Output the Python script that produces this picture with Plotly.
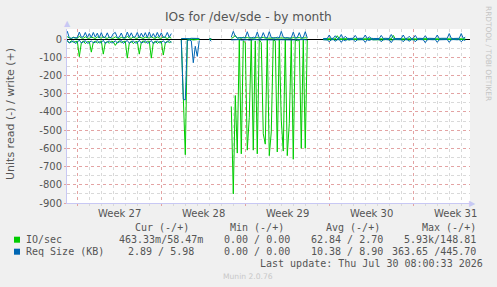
import plotly.graph_objects as go

N = None
# 4-hour samples (6 per day); day 0 = Monday of Week 27
start_day = -1
step = 1 / 6

# IO/sec read (plotted negative)
io_read = [
    15, 12, 20, 10, 18, 14,   # day -1
    12, 97, 22, 10, 25, 15,   # day 0
    14, 72, 18, 12, 22, 16,   # day 1
    10, 83, 20, 14, 24, 12,   # day 2
    15, 35, 18, 10, 20, 14,   # day 3
    12, 105, 22, 12, 25, 15,  # day 4
    14, 83, 18, 10, 22, 13,   # day 5
    12, 105, 20, 12, 24, 15,  # day 6
    13, 88, 22, 11, 20, 14,   # day 7
    N, N, N, N, 5, 340,       # day 8
    635, 5, 2, 3, 5, 4,       # day 9
    3, 2, N, N, N, N,         # day 10
    2, 3, N, N, N, N,         # day 11
    N, N, N, N, N, 370,       # day 12
    850, 310, 626, 5, 630, 10,  # day 13
    20, 610, 430, 5, 610, 10,   # day 14
    630, 5, 20, 520, 577, 5,    # day 15
    640, 510, 5, 10, 620, 5,    # day 16
    445, 615, 5, 640, 465, 5,   # day 17
    660, 5, 10, 5, 600, 5,      # day 18
    600, 5, N, N, N, N,         # day 19
    N, N, N, 3, 4, 2,           # day 20
    3, 4, 2, 5, 3, 2,           # day 21
    4, 3, 2, 3, 5, 2,           # day 22
    3, 5, 2, 4, 3, 2,           # day 23
    4, 3, 3, 2, 4, 3,           # day 24
    3, 4, 5, 2, 3, 2,           # day 25
    4, 5, 3, 2, 3, 3,           # day 26
    3, 4, 2, 3, 5, 2,           # day 27
    4, 5, 3, 2, 3, 2,           # day 28
    5, 3, 2, 3, 4, 2,           # day 29
    4, 3, 2, 3, 4, 3,           # day 30
    5, 3, 2, 4, 3, 2,           # day 31
    4, 3, 2, N, N, N,           # day 32
]

# IO/sec write (plotted positive)
io_write = [
    4, 12, 6, 3, 10, 5,
    5, 14, 6, 4, 12, 5,
    4, 10, 7, 3, 11, 6,
    5, 13, 6, 4, 10, 5,
    4, 12, 5, 3, 9, 6,
    5, 14, 6, 4, 12, 5,
    4, 11, 7, 3, 10, 6,
    5, 13, 6, 4, 11, 5,
    4, 12, 6, 3, 10, 5,
    N, N, N, N, 2, 1,
    1, 1, 1, 1, 1, 1,
    1, 1, N, N, N, N,
    1, 1, N, N, N, N,
    N, N, N, N, N, 5,
    8, 20, 5, 6, 4, 10,
    6, 8, 5, 7, 4, 6,
    8, 5, 6, 9, 5, 4,
    7, 6, 5, 8, 4, 6,
    6, 9, 5, 7, 5, 4,
    8, 5, 6, 8, 4, 6,
    7, 5, N, N, N, N,
    N, N, N, 1, 2, 1,
    1, 2, 1, 1, 18, 1,
    2, 1, 1, 2, 1, 1,
    1, 2, 1, 1, 2, 1,
    2, 1, 1, 2, 1, 1,
    1, 2, 1, 1, 2, 1,
    2, 1, 20, 1, 1, 2,
    1, 2, 1, 1, 2, 1,
    2, 1, 1, 2, 1, 1,
    1, 2, 1, 1, 2, 1,
    2, 1, 1, 2, 1, 1,
    1, 2, 1, 1, 2, 1,
    2, 1, 1, N, N, N,
]

# Req Size (KB) read (plotted negative)
req_read = [
    20, 8, 22, 18, 10, 24,
    18, 6, 22, 16, 9, 23,
    20, 10, 21, 18, 8, 22,
    19, 7, 24, 17, 10, 21,
    20, 9, 22, 16, 8, 24,
    18, 8, 23, 18, 10, 22,
    21, 7, 22, 17, 9, 23,
    19, 8, 24, 18, 10, 21,
    20, 9, 22, 16, 8, 20,
    N, N, N, N, 5, 330,
    335, 8, 5, 10, 130, 40,
    95, 8, N, N, N, N,
    3, 12, N, N, N, N,
    N, N, N, N, N, 5,
    4, 6, 5, 3, 6, 4,
    5, 4, 6, 4, 5, 3,
    4, 6, 5, 4, 6, 4,
    5, 4, 6, 3, 5, 4,
    4, 5, 4, 6, 4, 5,
    5, 4, 6, 4, 5, 3,
    4, 5, N, N, N, N,
    N, N, N, 4, 3, 5,
    15, 4, 3, 12, 4, 3,
    18, 4, 10, 3, 4, 5,
    3, 15, 4, 3, 5, 4,
    18, 4, 8, 3, 4, 5,
    4, 3, 15, 4, 3, 4,
    5, 20, 4, 3, 4, 3,
    4, 15, 3, 4, 12, 4,
    3, 15, 4, 3, 5, 4,
    20, 4, 3, 5, 4, 3,
    18, 4, 3, 4, 5, 3,
    18, 4, 3, 5, 4, 3,
    15, 4, 8, N, N, N,
]

# Req Size (KB) write (plotted positive)
req_write = [
    20, 42, 6, 4, 8, 5,
    6, 38, 10, 12, 36, 8,
    30, 8, 36, 10, 32, 6,
    35, 8, 10, 34, 7, 9,
    30, 36, 8, 10, 33, 6,
    8, 38, 10, 34, 9, 12,
    36, 7, 32, 10, 35, 8,
    38, 9, 30, 8, 36, 10,
    34, 8, 12, 36, 9, 30,
    N, N, N, N, 3, 2,
    2, 3, 2, 4, 3, 2,
    2, 3, N, N, N, N,
    1, 1, N, N, N, N,
    N, N, N, N, N, 10,
    42, 15, 5, 8, 6, 5,
    6, 40, 8, 5, 10, 6,
    38, 6, 5, 35, 8, 6,
    40, 8, 6, 5, 10, 6,
    42, 10, 6, 8, 5, 6,
    38, 6, 8, 35, 6, 8,
    40, 6, N, N, N, N,
    N, N, N, 3, 4, 3,
    22, 3, 4, 18, 3, 4,
    25, 3, 15, 4, 3, 3,
    4, 20, 3, 4, 3, 4,
    22, 3, 12, 4, 3, 3,
    4, 3, 20, 3, 4, 3,
    3, 25, 4, 3, 3, 4,
    3, 22, 3, 4, 15, 3,
    4, 20, 3, 4, 3, 3,
    18, 3, 4, 3, 4, 3,
    22, 3, 4, 3, 3, 4,
    30, 4, 3, 4, 3, 4,
    30, 4, 10, N, N, N,
]

week_labels = ["Week 27", "Week 28", "Week 29", "Week 30", "Week 31"]
week_centres = [3.5, 10.5, 17.5, 24.5, 31.5]
y_ticks = [-900, -800, -700, -600, -500, -400, -300, -200, -100, 0]

legend_names = ["IO/sec", "Req Size (KB)"]
legend_cur = ["463.33m/58.47m", "2.89 / 5.98"]
legend_min = ["0.00 / 0.00", "0.00 / 0.00"]
legend_avg = ["62.84 / 2.70", "10.38 / 8.90"]
legend_max = ["5.93k/148.81", "363.65 /445.70"]

GREEN = "#00CC00"
BLUE = "#0066B3"

t = [start_day + i * step for i in range(len(io_read))]


def neg(vals):
    return [(-v if v is not None else None) for v in vals]


fig = go.Figure()
fig.add_trace(go.Scatter(x=t, y=neg(io_read), mode="lines",
                         line=dict(color=GREEN, width=1), hoverinfo="skip"))
fig.add_trace(go.Scatter(x=t, y=io_write, mode="lines",
                         line=dict(color=GREEN, width=1), hoverinfo="skip"))
fig.add_trace(go.Scatter(x=t, y=neg(req_read), mode="lines",
                         line=dict(color=BLUE, width=1), hoverinfo="skip"))
fig.add_trace(go.Scatter(x=t, y=req_write, mode="lines",
                         line=dict(color=BLUE, width=1), hoverinfo="skip"))

W, H = 497, 287
PL, PR, PT, PB = 67, 470, 29, 203


def fx(px):
    return (px - PL) / (PR - PL)


def fy(py):
    return (PB - py) / (PB - PT)


MAJ = "#e3a3a3"
MIN = "#d9d9d9"
AX = "#c8c8f4"
TXT = "#555555"
SANS = "DejaVu Sans"
MONO = "DejaVu Sans Mono"

fig.update_layout(
    width=W, height=H,
    margin=dict(l=PL, r=W - PR, t=PT, b=H - PB, pad=0),
    paper_bgcolor="#f0f0f0", plot_bgcolor="#ffffff",
    showlegend=False, hovermode=False,
    xaxis=dict(range=[-0.86, 32.73], tickmode="linear", tick0=0, dtick=7,
               showticklabels=False, showgrid=True, gridcolor=MAJ, griddash="dot",
               gridwidth=1, ticks="outside", ticklen=2, tickcolor=MAJ,
               minor=dict(tickmode="linear", tick0=0, dtick=1, showgrid=True,
                          gridcolor=MIN, griddash="dot", ticks="outside",
                          ticklen=2, tickcolor=MIN),
               showline=True, linecolor=AX, linewidth=1, zeroline=False),
    yaxis=dict(range=[-900, 55], tickmode="array", tickvals=y_ticks,
               ticktext=[str(v) for v in y_ticks],
               tickfont=dict(family=SANS, size=10, color=TXT),
               showgrid=True, gridcolor=MAJ, griddash="dot", gridwidth=1,
               ticks="outside", ticklen=2, tickcolor=MAJ,
               minor=dict(tickmode="linear", tick0=0, dtick=50, showgrid=True,
                          gridcolor=MIN, griddash="dot"),
               zeroline=True, zerolinecolor="#000000", zerolinewidth=1,
               showline=True, linecolor=AX, linewidth=1),
)

ann = []


def text(px, py, s, size=10, color=TXT, family=SANS, xanchor="left", angle=0):
    ann.append(dict(x=fx(px), y=fy(py), xref="paper", yref="paper", text=s,
                    showarrow=False, xanchor=xanchor, yanchor="middle",
                    textangle=angle, borderpad=0, borderwidth=0,
                    font=dict(family=family, size=size, color=color)))


# title
text(248.5, 17, "IOs for /dev/sde - by month", size=12.2, color=TXT, xanchor="center")
# y title
text(10, 114, "Units read (-) / write (+)", size=11, color=TXT, xanchor="center", angle=-90)
# watermark
text(488.5, 53.5, "RRDTOOL / TOBI OETIKER", size=7.4, color="#c4c4c4", xanchor="center", angle=90)
# axis arrows
text(67, 24, "▲", size=8, color=AX, xanchor="center")
text(472, 203, "▶", size=8, color=AX, xanchor="center")

# week labels in data coords
for c, lab in zip(week_centres, week_labels):
    ann.append(dict(x=c, y=fy(213), xref="x", yref="paper", text=lab,
                    showarrow=False, xanchor="center", yanchor="middle",
                    borderpad=0, borderwidth=0,
                    font=dict(family=SANS, size=10, color=TXT)))

# legend
text(135, 227.5, "Cur (-/+)", family=MONO)
text(230, 227.5, "Min (-/+)", family=MONO)
text(326, 227.5, "Avg (-/+)", family=MONO)
text(476, 227.5, "Max (-/+)", family=MONO, xanchor="right")
rows_y = [239.7, 251.7]
for i, ry in enumerate(rows_y):
    text(26, ry, legend_names[i], family=MONO)
    text(161, ry, legend_cur[i], family=MONO, xanchor="center")
    text(224, ry, legend_min[i], family=MONO)
    text(311, ry, legend_avg[i], family=MONO)
    text(476, ry, legend_max[i], family=MONO, xanchor="right")
text(483, 263.5, "Last update: Thu Jul 30 08:00:33 2026", family=MONO, xanchor="right")
text(248, 276.5, "Munin 2.0.76", size=7.6, color="#c8c8c8", xanchor="center")

fig.update_layout(annotations=ann)

shapes = []
for ry, col in zip(rows_y, [GREEN, BLUE]):
    shapes.append(dict(type="rect", xref="paper", yref="paper",
                       x0=fx(14), x1=fx(20), y0=fy(ry + 3), y1=fy(ry - 3),
                       fillcolor=col, line=dict(width=0)))
fig.update_layout(shapes=shapes)

fig.write_html("out.html", config={"displayModeBar": False})
